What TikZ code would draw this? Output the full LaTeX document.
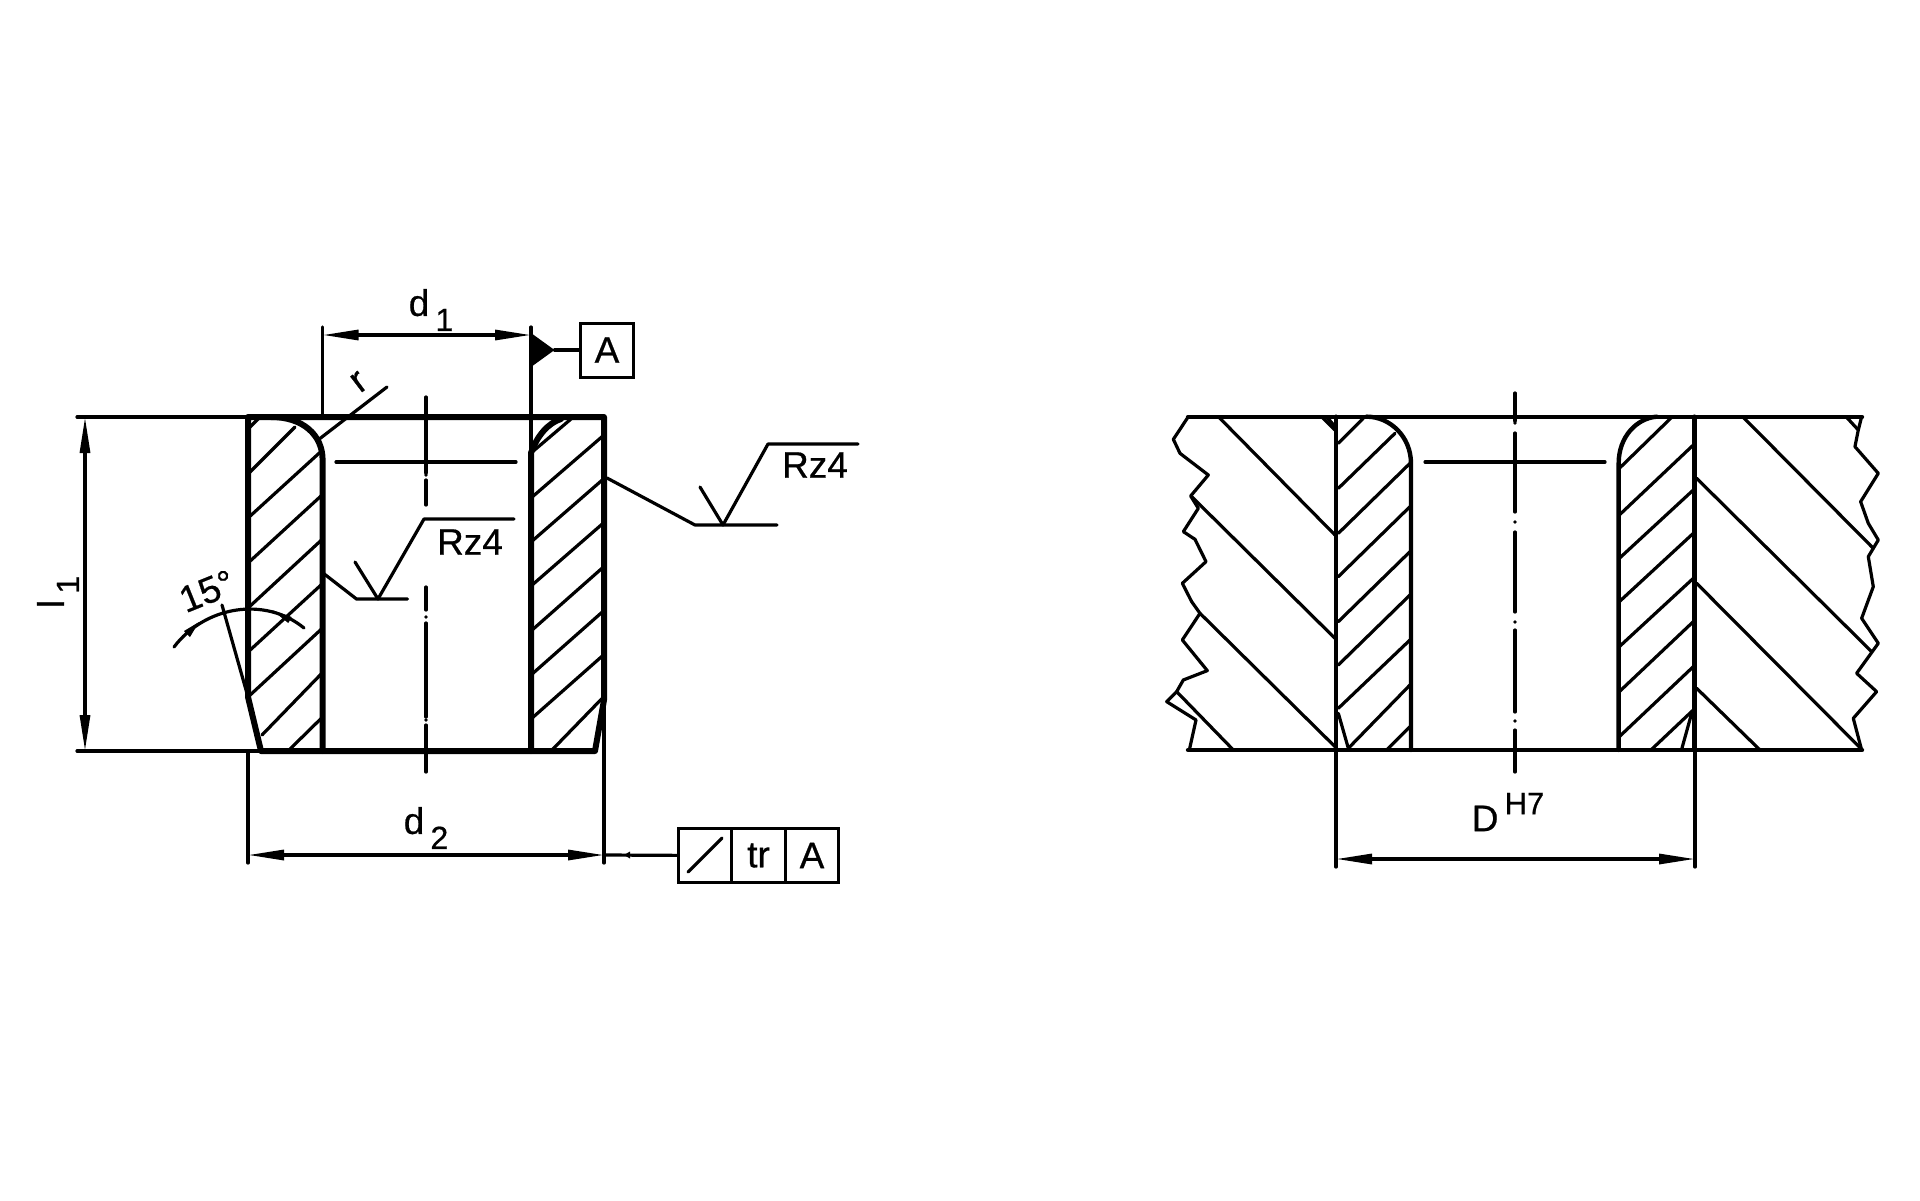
\documentclass[tikz,border=0pt]{standalone}
\usepackage{fontspec}
\setmainfont[FakeBold=0.6]{Liberation Sans}
\usetikzlibrary{arrows.meta,positioning}
\tikzset{
  thinline/.style={line width=3.2pt,line cap=round,line join=round},
  thickline/.style={line width=6pt,line cap=round,line join=round},
  wallline/.style={line width=4.4pt,line cap=round,line join=round},
  dimline/.style={thinline,{Triangle[length=36pt,width=10pt]}-{Triangle[length=36pt,width=10pt]},shorten <=0pt},
  lbl/.style={inner sep=0pt,font=\fontsize{37}{40}\selectfont},
  tolcell/.style={draw,line width=3pt,minimum width=53.5pt,minimum height=54pt,inner sep=0pt,outer sep=0pt,font=\fontsize{37}{40}\selectfont},
}
\newcommand{\lowered}[1]{\,\raisebox{-15pt}{\fontsize{32}{34}\selectfont #1}}
\newcommand{\raised}[1]{\,\raisebox{17pt}{\fontsize{31}{32}\selectfont #1}}
\begin{document}
\begin{tikzpicture}[x=1pt,y=-1pt]
\useasboundingbox (0,0) rectangle (1920,1200);
\fill[white] (0,0) rectangle (1920,1200);
% Douille : contour
\draw[thickline] (261,751) -- (248,697) -- (248,417) -- (604,417) -- (604,700) -- (595,751) -- cycle;
\draw[thickline] (322.6,751) -- (322.6,460) .. controls (322.6,435) and (303,417) .. (271,417);
\draw[thickline] (531,751) -- (531,453) .. controls (537,436) and (548,423) .. (561,419);
% Douille : hachures
\foreach \ya/\yb in {697/628,652/583.5,608/539,563/494.5,518/450,474/427}
  \draw[thinline] (248,\ya) -- ({\yb==427 ? 295 : 322.6},\yb);
\draw[thinline] (248,429) -- (259,418);
\draw[thinline] (288,751) -- (322.6,717);
\draw[thinline] (322.6,672.5) -- (262,735);
\foreach \ya/\yb in {498/435,542/478.5,586/522.5,631/566.5,675/610.5,719/654.5}
  \draw[thinline] (531,\ya) -- (604,\yb);
\draw[thinline] (552,750) -- (602,698.5);
\draw[thinline] (531,453) -- (571,419);
% Axe
\foreach \ya/\yb in {397/473,480/505,587/610,623/717,725/772}
  \draw[thinline] (426,\ya) -- (426,\yb);
\foreach \ya in {475,617,720}
  \fill (426,\ya) circle (1.8pt);
\draw[thinline] (336,462) -- (516,462);
% Cotes d1 et d2, l1
\draw[thinline] (322.6,327) -- (322.6,417);
\draw[thinline] (531,327) -- (531,452);
\draw[dimline] (322.6,335) -- (531,335);
\node[lbl] (labelda) at (431,310) {d\lowered{1}};
\draw[thinline] (248,751) -- (248,863);
\draw[thinline] (604,700) -- (604,863);
\draw[dimline] (248,855) -- (604,855);
\node[lbl] (labeldb) at (426,828) {d\lowered{2}};
\draw[thinline] (77,417) -- (248,417);
\draw[thinline] (77,751) -- (261,751);
\draw[dimline] (85,417) -- (85,751);
\node[lbl,rotate=90] (labella) at (58,592) {l\lowered{1}};
% Element de reference A
\node[tolcell] (boxA) at (607,350) {A};
\fill (531,333) -- (554.5,350) -- (531,367) -- cycle;
\coordinate (datumtip) at (554.5,350);
\draw[thinline] (datumtip) -- (boxA);
% Tolerance de battement
\node[tolcell] (tolslash) at (705,855.5) {};
\node[tolcell,right=0pt of tolslash] (toltr) {tr};
\node[tolcell,right=0pt of toltr] (tolA) {A};
\coordinate (tolstart) at (604,855);
\draw[thinline] (tolstart) -- (tolslash);
\fill (624,855) -- (630,851.5) -- (630,858.5) -- cycle;
\draw[thinline] (688,872) -- (722,838);
% Rayon r
\draw[thinline] (318,440) -- (387,387);
\node[lbl,rotate=37] (labelr) at (359,382) {r};
% Angle 15 degres
\draw[thinline] (248,697) -- (222,605);
\draw[thinline] (174,647) .. controls (205,606) and (265,596) .. (304,628);
\fill (199,622) -- (184,631) -- (190,637) -- cycle;
\fill (272,610) -- (291.7,617) -- (288.3,623) -- cycle;
\node[lbl,rotate=22] (labelang) at (207,591) {15°};
% Etats de surface
\draw[thinline] (323,573) -- (356.5,599) -- (407.5,599);
\draw[thinline] (355,562) -- (378,599) -- (424,519) -- (514,519);
\node[lbl] (labelrza) at (470,542) {Rz4};
\draw[thinline] (607,478) -- (695,525) -- (777,525);
\draw[thinline] (700,487) -- (723,525) -- (768,444) -- (858,444);
\node[lbl] (labelrzb) at (815,465) {Rz4};
% Logement : cote gauche
\begin{scope}[xshift=1150pt,yshift=-380pt,x=0.3333pt,y=-0.3333pt]
\draw[thinline] (115,110) -- (70,178) -- (90,220) -- (175,285) -- (122,348) -- (145,385) -- (100,455) -- (135,478) -- (168,545) -- (97,610) -- (125,665) -- (150,700) -- (97,780) -- (172,872) -- (100,900) -- (80,935) -- (50,965) -- (138,1020) -- (118,1110);
\foreach \xa/\ya/\xb/\yb in {205/110/555/465,125/350/555/775,150/700/555/1100,80/935/250/1110,515/110/555/150,530/110/555/140}
  \draw[thinline] (\xa,\ya) -- (\xb,\yb);
\foreach \xa/\ya/\xb/\yb in {565/190/640/115,565/325/735/160,565/460/780/250,565/590/780/380,565/725/780/515,565/855/780/645,565/985/780/780,595/1105/780/915,710/1110/780/1040,565/1000/595/1105}
  \draw[thinline] (\xa,\ya) -- (\xb,\yb);
\draw[wallline] (558,110) -- (558,1110);
\draw[wallline] (783,1110) -- (783,250) .. controls (783,170) and (720,110) .. (650,110);
\end{scope}
% Logement : cote droit
\begin{scope}[xshift=1480pt,yshift=-380pt,x=0.3333pt,y=-0.3333pt]
\draw[thinline] (1145,110) -- (1135,150) -- (1125,200) -- (1195,280) -- (1142,365) -- (1165,430) -- (1195,480) -- (1165,530) -- (1180,620) -- (1145,715) -- (1195,790) -- (1130,880) -- (1190,935) -- (1120,1015) -- (1145,1110);
\foreach \xa/\ya/\xb/\yb in {790/112/1180/505,650/295/1175/815,650/610/1145/1108,650/925/840/1110,1100/112/1135/150}
  \draw[thinline] (\xa,\ya) -- (\xb,\yb);
\foreach \xa/\ya/\xb/\yb in {418/265/575/112,418/405/640/195,418/535/640/330,418/665/640/460,418/800/640/595,418/935/640/725,418/1070/640/860,515/1108/640/990,605/1108/635/1000}
  \draw[thinline] (\xa,\ya) -- (\xb,\yb);
\draw[wallline] (643,110) -- (643,1110);
\draw[wallline] (416,1110) -- (416,250) .. controls (416,170) and (470,115) .. (530,110);
\end{scope}
% Logement : lignes de plan et axe
\draw[wallline] (1188,417) -- (1862,417);
\draw[wallline] (1188,750) -- (1862,750);
\foreach \ya/\yb in {393/421,433/512,532/612,630/712,730/772}
  \draw[thinline] (1515,\ya) -- (1515,\yb);
\foreach \ya in {423,522,622,721}
  \fill (1515,\ya) circle (1.8pt);
\draw[thinline] (1425,462) -- (1605,462);
% Cote D
\draw[thinline] (1336,750) -- (1336,867);
\draw[thinline] (1695,750) -- (1695,867);
\draw[dimline] (1336,859) -- (1695,859);
\node[lbl] (labeld) at (1508,812) {D\raised{H7}};
\end{tikzpicture}
\end{document}
